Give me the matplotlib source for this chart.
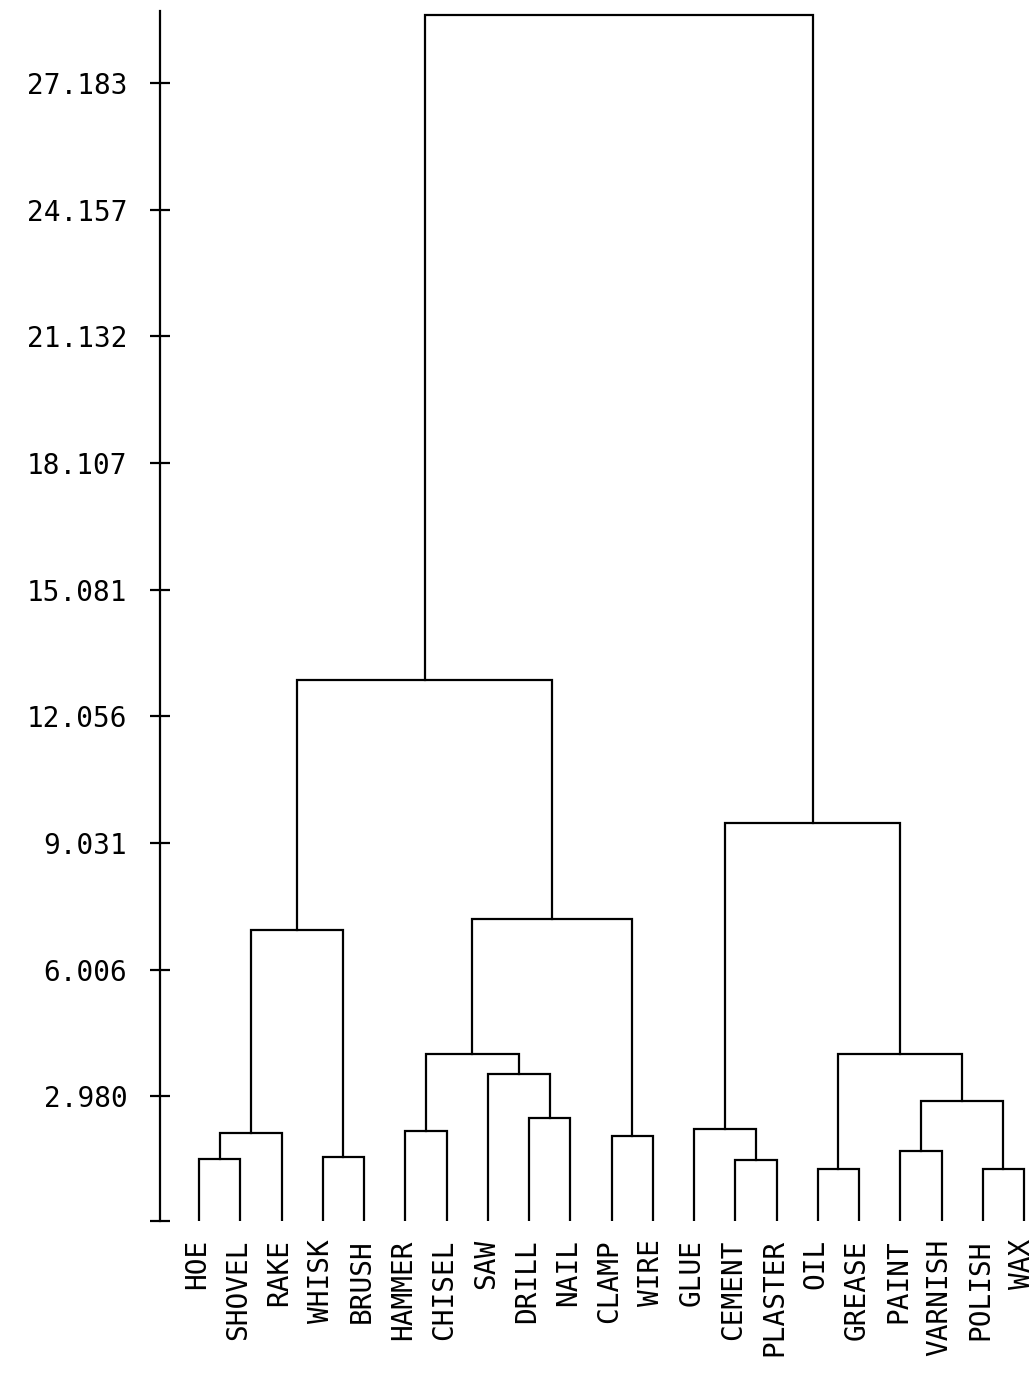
import matplotlib
matplotlib.use('Agg')
import matplotlib.pyplot as plt
import matplotlib.transforms as mtransforms

# leaves in display order
leaves = ['HOE', 'SHOVEL', 'RAKE', 'WHISK', 'BRUSH', 'HAMMER', 'CHISEL', 'SAW',
          'DRILL', 'NAIL', 'CLAMP', 'WIRE', 'GLUE', 'CEMENT', 'PLASTER', 'OIL',
          'GREASE', 'PAINT', 'VARNISH', 'POLISH', 'WAX']

# merges, linkage style: cluster n+k is made from merge k
merge_left = [0, 21, 3, 22, 5, 8, 7, 25, 10, 28, 24, 13, 12, 15, 17, 19, 35, 34, 33, 31]
merge_right = [1, 2, 4, 23, 6, 9, 26, 27, 11, 29, 30, 14, 32, 16, 18, 20, 36, 37, 38, 39]
merge_height = [1.49, 2.09, 1.54, 6.94, 2.14, 2.45, 3.52, 4.00, 2.04, 7.22, 12.92,
                1.45, 2.19, 1.25, 1.68, 1.25, 2.86, 4.00, 9.50, 28.80]

ytick_values = [0, 2.980, 6.006, 9.031, 12.056, 15.081, 18.107, 21.132, 24.157, 27.183]
ytick_labels = [''] + ['%.3f' % v for v in ytick_values[1:]]

fig = plt.figure(figsize=(10.34, 13.74), dpi=100)
W, H = 1034, 1374
ax = fig.add_axes([160 / W, (H - 1221) / H, (W - 160) / W, (1221 - 11) / H])

n = len(leaves)
xpos = {i: float(i) for i in range(n)}
hgt = {i: 0.0 for i in range(n)}
for k, (a, b, h) in enumerate(zip(merge_left, merge_right, merge_height)):
    ax.plot([xpos[a], xpos[a], xpos[b], xpos[b]], [hgt[a], h, h, hgt[b]],
            color='black', lw=1.6, solid_joinstyle='miter')
    xpos[n + k] = (xpos[a] + xpos[b]) / 2
    hgt[n + k] = h

ax.set_xlim((160 - 199) / 41.25, (1034 - 199) / 41.25)
ax.set_ylim(0, 28.9)

for s in ['top', 'right', 'bottom']:
    ax.spines[s].set_visible(False)
ax.spines['left'].set_linewidth(1.6)

font = {'family': 'DejaVu Sans Mono', 'size': 20}
ax.set_yticks(ytick_values)
ax.set_yticklabels(ytick_labels, fontdict=font)
ax.tick_params(axis='y', direction='inout', length=15, width=1.6, pad=16)

ax.set_xticks(range(n))
ax.set_xticklabels(leaves, rotation=90, fontdict=font)
ax.tick_params(axis='x', length=0, pad=13)
shift = mtransforms.ScaledTranslation(-2 / 100, 0, fig.dpi_scale_trans)
for lab in ax.get_xticklabels():
    lab.set_transform(lab.get_transform() + shift)

fig.savefig('out.png', dpi=100)
